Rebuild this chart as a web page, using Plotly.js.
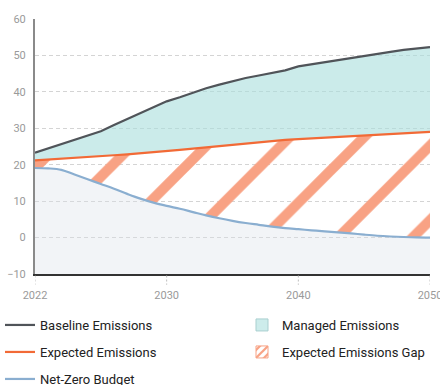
<!DOCTYPE html>
<html><head><meta charset="utf-8">
<script src="https://cdn.plot.ly/plotly-3.0.1.min.js"></script>
<style>html,body{margin:0;padding:0;background:#fff}#chart{width:440px;height:385px}</style>
</head><body><div id="chart"></div>
<script>
const years = [2020,2021,2022,2023,2024,2025,2026,2027,2028,2029,2030,2031,2032,2033,2034,2035,2036,2037,2038,2039,2040,2041,2042,2043,2044,2045,2046,2047,2048,2049,2050];
const baseline = [23.3,24.5,25.6,26.8,28.0,29.2,30.9,32.5,34.1,35.9,37.4,38.5,39.8,41.0,42.0,43.0,43.8,44.5,45.2,45.9,47.0,47.6,48.1,48.6,49.2,49.8,50.5,51.0,51.5,51.9,52.3];
const expected = [21.2,21.4,21.6,21.85,22.1,22.35,22.6,22.85,23.1,23.4,23.7,24.05,24.4,24.75,25.1,25.45,25.8,26.15,26.5,26.8,27.0,27.2,27.4,27.6,27.75,27.9,28.1,28.3,28.5,28.75,29.0];
const netZero = [19.1,19.0,18.6,17.3,16.0,14.7,13.4,12.0,10.7,9.6,8.7,7.9,7.0,6.1,5.3,4.6,4.0,3.5,3.0,2.6,2.3,2.0,1.7,1.45,1.15,0.8,0.5,0.3,0.15,0.05,0.0];
const xTickVals = [2020,2030,2040,2050];
const xTickText = ['2022','2030','2040','2050'];
const yTickVals = [-10,0,10,20,30,40,50,60];
const Y_MIN = -10, Y_MAX = 60;
const floorLine = years.map(() => Y_MIN);

const C = {
  baseline:'#505459', expected:'#f26a36', netZero:'#8aaed0',
  managed:'rgba(168,222,220,0.6)', budgetArea:'rgba(218,223,232,0.35)', hatch:'#f8a284'
};
const font = 'Roboto, "Noto Sans", sans-serif';

const traces = [
  {x:years, y:floorLine, mode:'lines', line:{width:0}, showlegend:false, hoverinfo:'skip'},
  {x:years, y:netZero, mode:'lines', line:{width:0}, fill:'tonexty', fillcolor:C.budgetArea, showlegend:false, hoverinfo:'skip'},
  {x:years, y:expected, mode:'lines', line:{width:0}, fill:'tonexty', fillcolor:'rgba(0,0,0,0)',
    fillpattern:{shape:'/', size:52.7, solidity:0.195, fgcolor:C.hatch, bgcolor:'rgba(0,0,0,0)', fgopacity:1},
    showlegend:false, hoverinfo:'skip'},
  {x:years, y:baseline, mode:'lines', line:{width:0}, fill:'tonexty', fillcolor:C.managed, showlegend:false, hoverinfo:'skip'},
  {x:years, y:baseline, mode:'lines', name:'Baseline Emissions', line:{color:C.baseline, width:2.2}, legend:'legend'},
  {x:years, y:expected, mode:'lines', name:'Expected Emissions', line:{color:C.expected, width:2.2}, legend:'legend2'},
  {x:years, y:netZero, mode:'lines', name:'Net-Zero Budget', line:{color:C.netZero, width:2.2, shape:'spline'}, legend:'legend3'},
  {type:'bar', x:[null], y:[null], name:'Managed Emissions', legend:'legend4',
    marker:{color:'#cdeceb', line:{color:'#a9cfcf', width:1}}},
  {type:'bar', x:[null], y:[null], name:'Expected Emissions Gap', legend:'legend5',
    marker:{color:'#ffffff', line:{color:C.hatch, width:1}, pattern:{shape:'/', size:7, solidity:0.4, fgcolor:C.hatch, bgcolor:'#ffffff'}}}
];

function legendAt(px, py){
  return {orientation:'h', xref:'container', yref:'container', x:px/440, y:1-py/385, xanchor:'left', yanchor:'middle',
    traceorder:'normal', bgcolor:'rgba(0,0,0,0)', font:{family:font, size:13, color:'#222'}};
}

const shapes = xTickVals.map(v => ({type:'line', xref:'x', yref:'paper', x0:v, x1:v, y0:-0.006, y1:-0.042,
  line:{color:'#bdbdbd', width:1, dash:'2px,2px'}}));

const layout = {
  width:440, height:385,
  margin:{l:35, r:10, t:18.5, b:111},
  paper_bgcolor:'#fff', plot_bgcolor:'#fff',
  font:{family:font},
  showlegend:true,
  legend:legendAt(0,325), legend2:legendAt(0,352), legend3:legendAt(0,379),
  legend4:legendAt(242,325), legend5:legendAt(242,352),
  xaxis:{range:[2020,2050], tickvals:xTickVals, ticktext:xTickText, showgrid:false, zeroline:false,
    showline:true, linecolor:'#333', linewidth:2, ticks:'outside', ticklen:10, tickcolor:'rgba(0,0,0,0)',
    ticklabeloverflow:'allow', automargin:false,
    tickfont:{family:font, size:11, color:'#9a9a9a'}, fixedrange:true},
  yaxis:{range:[Y_MIN,Y_MAX], tickvals:yTickVals, showgrid:true, gridcolor:'#d4d4d4', griddash:'4px,3px', gridwidth:1,
    zeroline:false, showline:true, linecolor:'#8a8a8a', linewidth:2, ticks:'outside', ticklen:5, tickcolor:'rgba(0,0,0,0)',
    automargin:false, tickfont:{family:font, size:11, color:'#9a9a9a'}, fixedrange:true},
  shapes:shapes
};
Plotly.newPlot('chart', traces, layout, {displayModeBar:false, staticPlot:true});
</script></body></html>
